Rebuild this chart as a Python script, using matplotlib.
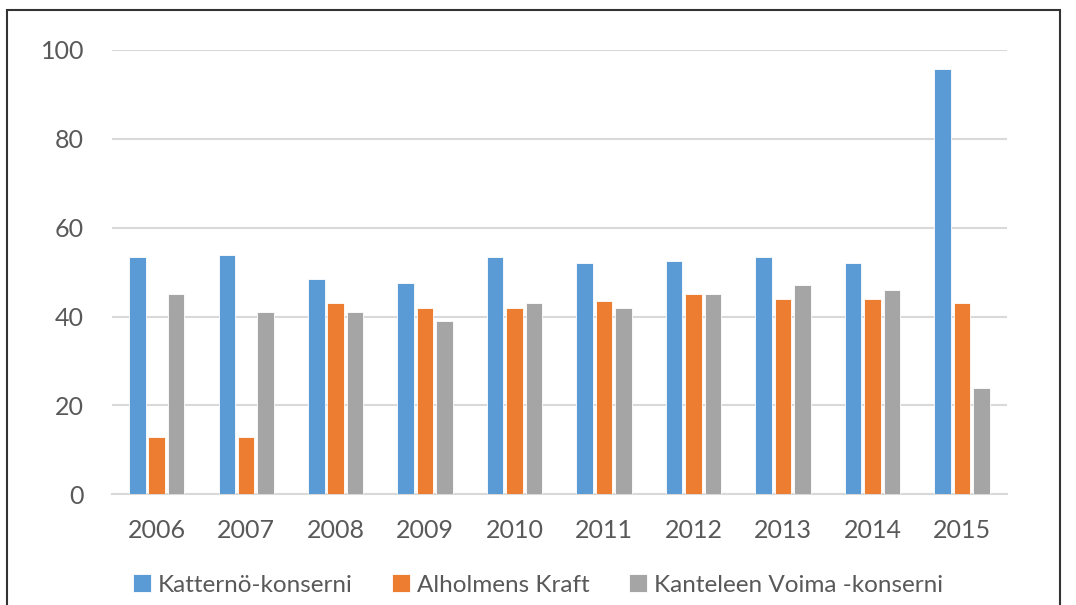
import numpy as np
import matplotlib.pyplot as plt
from matplotlib.patches import Rectangle

# donnees
annees = ['2006', '2007', '2008', '2009', '2010', '2011', '2012', '2013', '2014', '2015']
katterno = [53.3, 53.9, 48.5, 47.5, 53.3, 52.1, 52.4, 53.4, 52.1, 95.7]
alholmens = [13, 13, 43, 42, 42, 43.4, 45, 44, 44, 43]
kanteleen = [45, 41, 41, 39, 43, 42, 45, 47, 46, 24]
series = ['Katternö-konserni', 'Alholmens Kraft', 'Kanteleen Voima -konserni']
couleurs = ['#5B9BD5', '#ED7D31', '#A5A5A5']

plt.rcParams['font.family'] = ['Lato', 'DejaVu Sans']

fig = plt.figure(figsize=(10.76, 6.05), dpi=100)
ax = fig.add_axes([0.1041, 0.1830, 0.8315, 0.7344])

x = np.arange(len(annees))
pas = 0.217
larg = 0.185
for i, (vals, nom, c) in enumerate(zip([katterno, alholmens, kanteleen], series, couleurs)):
    ax.bar(x + (i - 1) * pas, vals, width=larg, color=c, edgecolor='white',
           linewidth=0.6, label=nom, zorder=3)

ax.set_xlim(-0.5, len(annees) - 0.5)
ax.set_ylim(0, 100)
ax.set_yticks([0, 20, 40, 60, 80, 100])
ax.set_xticks(x)
ax.set_xticklabels(annees)
ax.tick_params(axis='both', length=0, labelsize=18, labelcolor='#595959')
ax.tick_params(axis='y', pad=20)
ax.tick_params(axis='x', pad=18)
ax.grid(axis='y', color='#D9D9D9', linewidth=1.5, zorder=0)
for s in ['top', 'right', 'left']:
    ax.spines[s].set_visible(False)
ax.spines['bottom'].set_color('#D9D9D9')
ax.spines['bottom'].set_linewidth(1.5)

# cadre autour du graphique
cadre = Rectangle((7 / 1076, -0.05), 1053 / 1076, 1.05 - 10 / 605, transform=fig.transFigure,
                  fill=False, edgecolor='#333333', linewidth=1.5)
fig.patches.append(cadre)

fig.legend(loc='center', bbox_to_anchor=(0.5, 1 - 585 / 605), ncol=3, frameon=False,
           fontsize=17.5, labelcolor='#595959', handlelength=0.75, handleheight=0.75,
           handletextpad=0.3, columnspacing=1.6)

fig.savefig('out.png', dpi=100)
